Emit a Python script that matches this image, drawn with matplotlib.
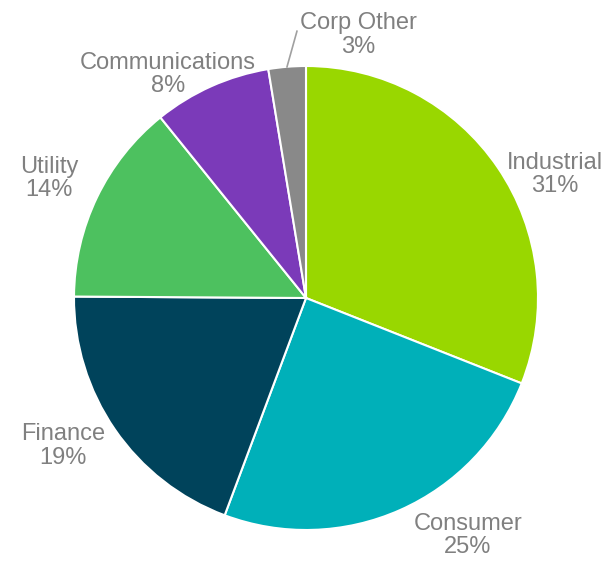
import matplotlib
matplotlib.use("Agg")
import matplotlib.pyplot as plt

categories = ["Industrial", "Consumer", "Finance", "Utility", "Communications", "Corp Other"]
shares = [31.0, 24.7, 19.4, 14.1, 8.2, 2.6]
colors = ["#99D700", "#00B0B9", "#00435B", "#4DC15F", "#7B3AB9", "#898989"]

# where each label sits (pie radius = 1)
label_pos = [(1.071, 0.532), (0.698, -1.024), (-1.047, -0.638), (-1.108, 0.515), (-0.595, 0.963), (0.226, 1.134)]

plt.rcParams['font.family'] = ['Liberation Sans', 'DejaVu Sans']

fig = plt.figure(figsize=(6.08, 5.61), dpi=100)
ax = fig.add_axes([0, 0, 1, 1])

ax.pie(shares, colors=colors, startangle=90, counterclock=False, radius=1,
       wedgeprops=dict(edgecolor="white", linewidth=1.5))

for name, val, (x, y) in zip(categories, shares, label_pos):
    ax.text(x, y, f"{name}\n{round(val)}%", ha="center", va="center", fontsize=17,
            color="#808080", linespacing=1.1)

# leader line for the small slice
ax.plot([-0.082, -0.039], [0.996, 1.15], color="#A0A0A0", lw=1.2)

ax.set_xlim(-306 / 232, 302 / 232)
ax.set_ylim(-263 / 232, 298 / 232)
ax.set_aspect('auto')
ax.axis('off')

fig.savefig("out.png", dpi=100)
